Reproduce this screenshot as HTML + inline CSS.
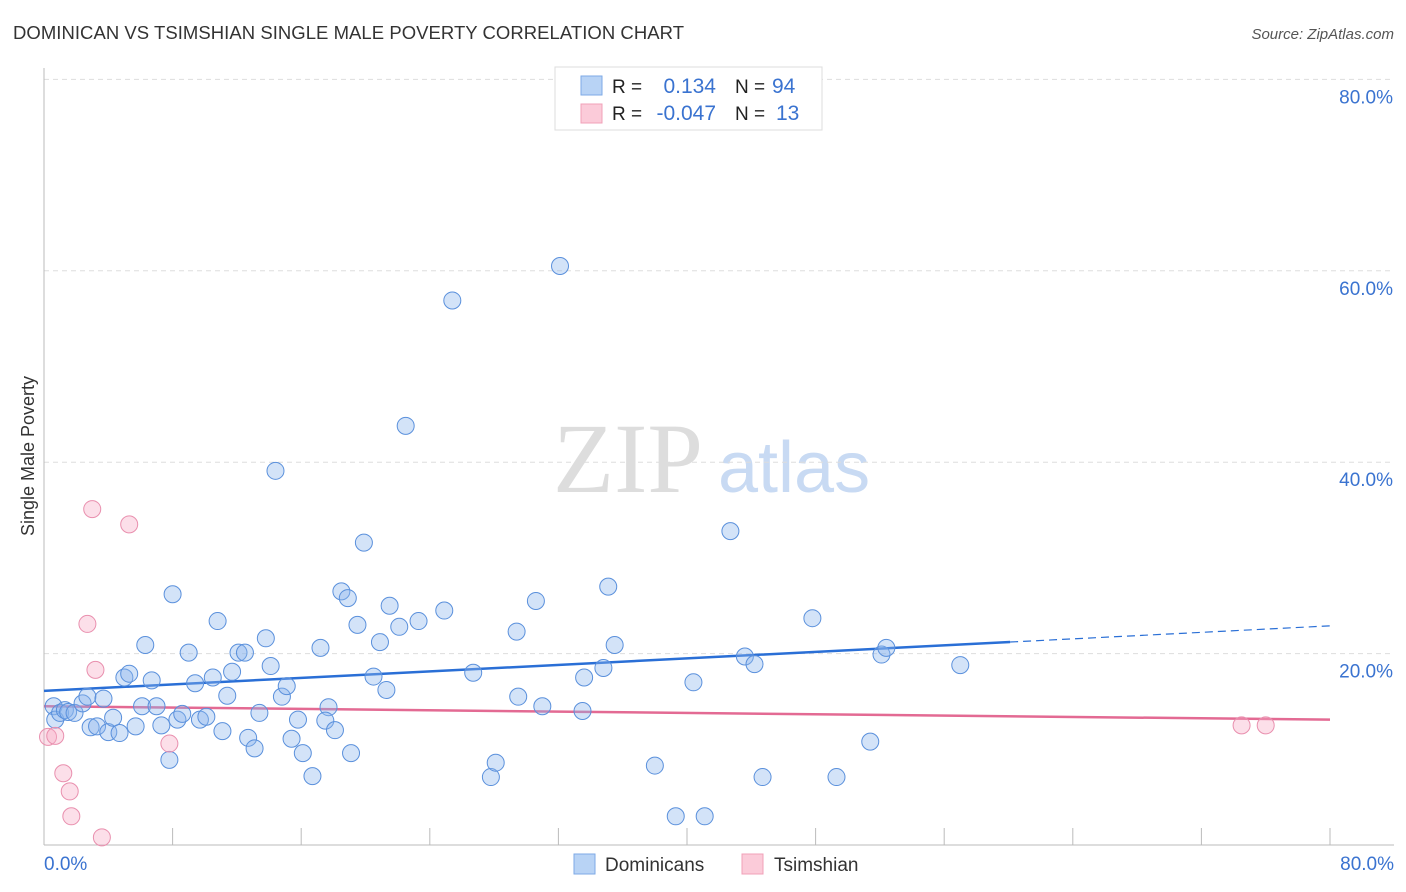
<!DOCTYPE html>
<html><head><meta charset="utf-8">
<style>
body{margin:0;background:#fff;font-family:"Liberation Sans",sans-serif;}
svg{display:block}
</style></head>
<body>
<svg id="chart" width="1406" height="892">
<text x="13" y="39" font-size="18.5" fill="#333" textLength="671">DOMINICAN VS TSIMSHIAN SINGLE MALE POVERTY CORRELATION CHART</text>
<text x="1394" y="39" font-size="15" fill="#555" font-style="italic" text-anchor="end">Source: ZipAtlas.com</text>
<text x="0" y="0" font-size="18" fill="#333" transform="translate(34,456) rotate(-90)" text-anchor="middle">Single Male Poverty</text>
<g>
<text x="553" y="492" font-family="Liberation Serif,serif" font-size="100" fill="#ddd">ZIP</text>
<text x="718" y="492" font-size="72" fill="#c8daf3">atlas</text>
</g>
<g id="grid"></g><g id="axes"></g><g id="trends"></g><g id="pts"></g>
<g>
<rect x="555" y="67" width="267" height="63" fill="#fff" stroke="#ddd"/>
<rect x="581" y="76" width="21" height="19" fill="#b8d3f5" stroke="#7eaae6"/>
<rect x="581" y="104" width="21" height="19" fill="#fbcbd9" stroke="#f0a0b8"/>
<text x="612" y="93" font-size="19" fill="#222">R =</text>
<text x="716" y="93" font-size="21" fill="#3a73d0" text-anchor="end">0.134</text>
<text x="735" y="93" font-size="19" fill="#222">N =</text>
<text x="772" y="93" font-size="21" fill="#3a73d0">94</text>
<text x="612" y="120" font-size="19" fill="#222">R =</text>
<text x="716" y="120" font-size="21" fill="#3a73d0" text-anchor="end">-0.047</text>
<text x="735" y="120" font-size="19" fill="#222">N =</text>
<text x="776" y="120" font-size="21" fill="#3a73d0">13</text>
</g>
<g>
<rect x="574" y="854" width="21" height="20" fill="#b8d3f5" stroke="#7eaae6"/>
<text x="605" y="871" font-size="19" fill="#333">Dominicans</text>
<rect x="742" y="854" width="21" height="20" fill="#fbcbd9" stroke="#f0a0b8"/>
<text x="774" y="871" font-size="19" fill="#333">Tsimshian</text>
</g>
</svg>
<script>
const blueX=[0.6,0.7,1.0,1.3,1.5,1.9,2.4,2.7,2.9,3.3,3.7,4.0,4.3,4.7,5.0,5.3,5.7,6.1,6.3,6.7,7.0,7.3,7.8,8.0,8.3,8.6,9.0,9.4,9.7,10.1,10.5,10.8,11.1,11.4,11.7,12.1,12.5,12.7,13.1,13.4,13.8,14.1,14.4,14.8,15.1,15.4,15.8,16.1,16.7,17.2,17.7,17.5,18.1,18.5,18.9,19.1,19.5,19.9,20.5,20.9,21.3,21.5,22.1,22.5,23.3,24.9,25.4,26.7,27.8,28.1,29.4,29.5,30.6,31.0,32.1,33.5,33.6,34.8,35.1,35.5,38.0,39.3,40.4,41.1,42.7,43.6,44.2,44.7,47.8,49.3,51.4,52.1,52.4,57.0];
const blueY=[14.5,13.1,13.8,14.1,13.9,13.8,14.8,15.5,12.3,12.4,15.3,11.8,13.3,11.7,17.5,17.9,12.4,14.5,20.9,17.2,14.5,12.5,8.9,26.2,13.1,13.7,20.1,16.9,13.1,13.4,17.5,23.4,11.9,15.6,18.1,20.1,20.1,11.2,10.1,13.8,21.6,18.7,39.1,15.5,16.6,11.1,13.1,9.6,7.2,20.6,14.4,13.0,12.0,26.5,25.8,9.6,23.0,31.6,17.6,21.2,16.2,25.0,22.8,43.8,23.4,24.5,56.9,18.0,7.1,8.6,22.3,15.5,25.5,14.5,60.5,14.0,17.5,18.5,27.0,20.9,8.3,3.0,17.0,3.0,32.8,19.7,18.9,7.1,23.7,7.1,10.8,19.9,20.6,18.8];
const pinkX=[0.25,0.7,1.2,1.6,1.7,3.6,2.7,3.0,3.2,5.3,7.8,74.5,76.0];
const pinkY=[11.3,11.4,7.5,5.6,3.0,0.8,23.1,35.1,18.3,33.5,10.6,12.5,12.5];
const yTicks=[20,40,60,80];
const yTickLabels=["20.0%","40.0%","60.0%","80.0%"];
const xTicks=[8,16,24,32,40,48,56,64,72,80];
const blueTrend=[16.1,22.9];
const pinkTrend=[14.5,13.1];
const blueSolidEnd=60.1;

const NS="http://www.w3.org/2000/svg";
const sx=v=>44+v*16.075;
const sy=v=>845-v*9.57;
function mk(tag,attrs,parent){const e=document.createElementNS(NS,tag);for(const k in attrs)e.setAttribute(k,attrs[k]);document.getElementById(parent).appendChild(e);return e;}

yTicks.forEach((t,i)=>{
  const l=mk('line',{x1:44,x2:1394,y1:sy(t),y2:sy(t),stroke:'#ddd','stroke-dasharray':'5,4'},'grid');
  
  
  const tx=mk('text',{x:1393,y:sy(t)+24,'font-size':19,fill:'#3a73d0','text-anchor':'end'},'grid');
  tx.textContent=yTickLabels[i];
  
  
});
const ag=mk('line',{x1:44,x2:44,y1:68,y2:845,stroke:'#bbb'},'axes');


const xa=mk('line',{x1:44,x2:1394,y1:845,y2:845,stroke:'#bbb'},'axes');


xTicks.forEach(t=>{
  const l=mk('line',{x1:sx(t),x2:sx(t),y1:828,y2:845,stroke:'#bbb'},'axes');
  
  
});
const x0=mk('text',{x:44,y:870,'font-size':19,fill:'#3a73d0'},'axes');x0.textContent='0.0%';


const x1=mk('text',{x:1394,y:870,'font-size':19,fill:'#3a73d0','text-anchor':'end'},'axes');x1.textContent='80.0%';



const by=v=>blueTrend[0]+(blueTrend[1]-blueTrend[0])*v/80;
const bt=mk('line',{x1:sx(0),y1:sy(by(0)),x2:sx(blueSolidEnd),y2:sy(by(blueSolidEnd)),stroke:'#2a6fd6','stroke-width':2.5},'trends');


const bd=mk('line',{x1:sx(blueSolidEnd),y1:sy(by(blueSolidEnd)),x2:sx(80),y2:sy(by(80)),stroke:'#2a6fd6','stroke-width':1.2,'stroke-dasharray':'8,5'},'trends');


const pt=mk('line',{x1:sx(0),y1:sy(pinkTrend[0]),x2:sx(80),y2:sy(pinkTrend[1]),stroke:'#e36a93','stroke-width':2.5},'trends');



blueX.forEach((x,i)=>{
  const c=mk('circle',{cx:sx(x),cy:sy(blueY[i]),r:8.5,fill:'rgba(140,182,236,0.38)',stroke:'#5a90dc','stroke-width':1},'pts');
  
  
});
pinkX.forEach((x,i)=>{
  const c=mk('circle',{cx:sx(x),cy:sy(pinkY[i]),r:8.5,fill:'rgba(246,172,196,0.38)',stroke:'#e98fae','stroke-width':1},'pts');
  
  
});
</script>
</body></html>
